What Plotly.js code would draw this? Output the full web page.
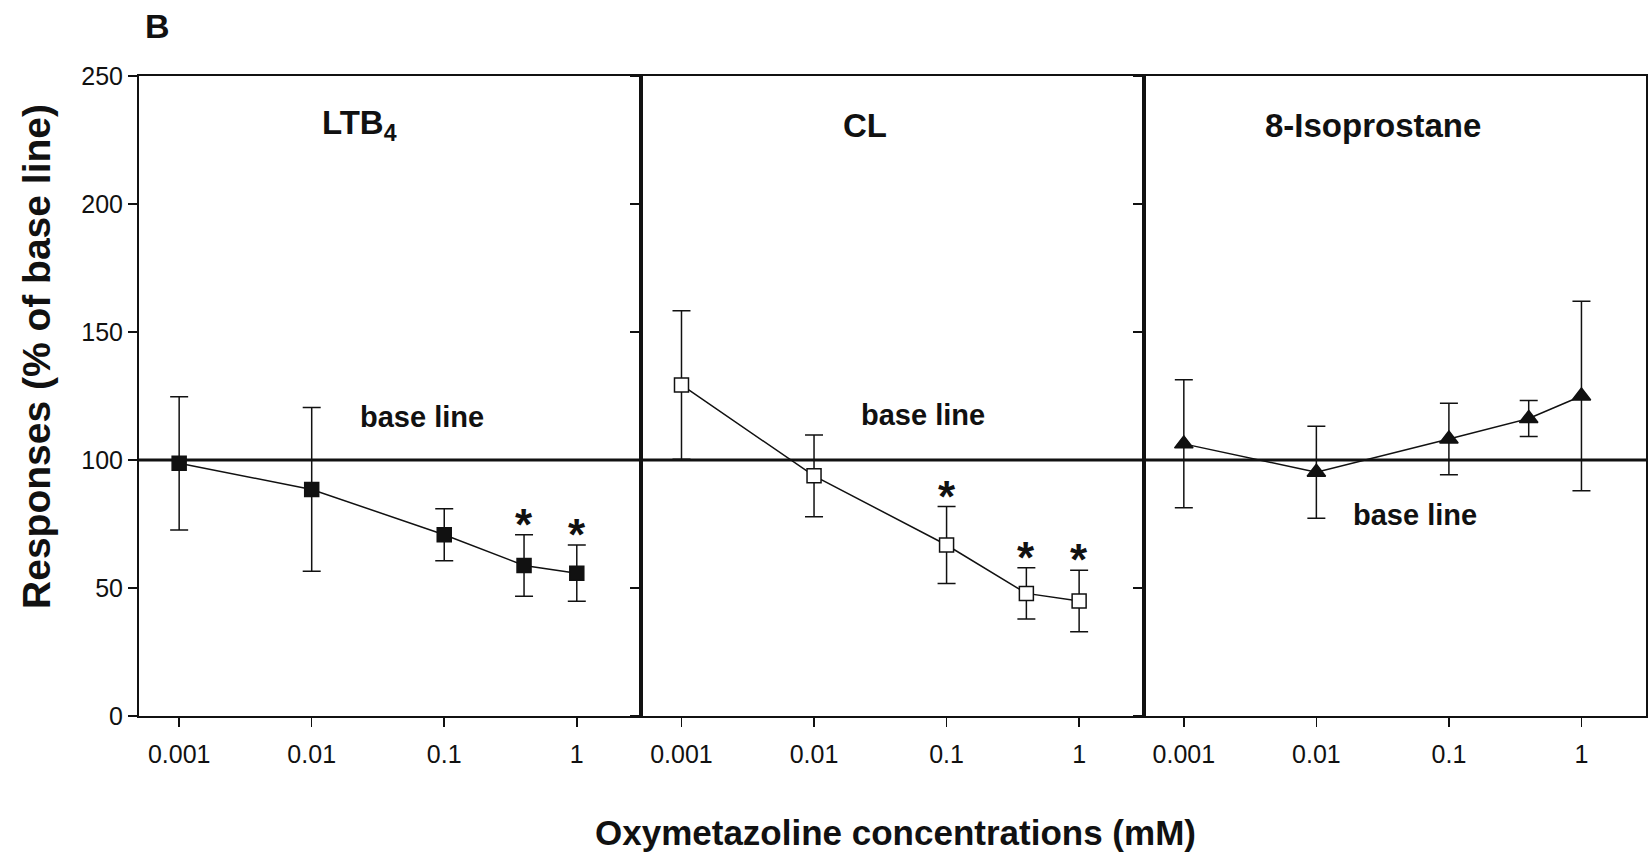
<!DOCTYPE html>
<html>
<head>
<meta charset="utf-8">
<script src="https://cdn.plot.ly/plotly-3.0.1.min.js"></script>
<style>html,body{margin:0;padding:0;background:#fff;}#chart{width:1648px;height:859px;}</style>
</head>
<body>
<div id="chart"></div>
<script>
// ---- data ----
const concentrations = [0.001, 0.01, 0.1, 0.4, 1];
const ltb4Mean = [98.7, 88.5, 70.8, 58.8, 55.8];
const ltb4Err = [26, 32, 10.2, 12, 11];
const ltb4Sig = [false, false, false, true, true];
const clMean = [129.3, 93.8, 66.8, 47.9, 44.9];
const clErr = [29, 16, 15, 10, 12];
const clSig = [false, false, true, true, true];
const isoMean = [106.3, 95.2, 108.2, 116.2, 125];
const isoErr = [25, 18, 14, 7, 37];
const isoSig = [false, false, false, false, false];
const panelNames = ['LTB<sub>4</sub>', 'CL', '8-Isoprostane'];
const xTickVals = [0.001, 0.01, 0.1, 1];
const xTickText = ['0.001', '0.01', '0.1', '1'];
const yTickVals = [0, 50, 100, 150, 200, 250];
const baselineValue = 100;
const baselineLabel = 'base line';
const xTitle = 'Oxymetazoline concentrations (mM)';
const yTitle = 'Responses (% of base line)';
const panelLetter = 'B';

// ---- styling ----
const FONT = 'Liberation Sans, Arial, sans-serif';
const INK = '#111';
const series = [
  {mean: ltb4Mean, err: ltb4Err, sig: ltb4Sig, symbol: 'square', size: 14, fill: INK},
  {mean: clMean, err: clErr, sig: clSig, symbol: 'square', size: 14, fill: '#fff'},
  {mean: isoMean, err: isoErr, sig: isoSig, symbol: 'triangle-up', size: 16, fill: INK}
];
const axSuffix = ['', '2', '3'];

const traces = series.map((s, i) => ({
  type: 'scatter', mode: 'lines+markers',
  x: concentrations, y: s.mean,
  xaxis: 'x' + axSuffix[i], yaxis: 'y' + axSuffix[i],
  line: {color: INK, width: 1.5},
  marker: {symbol: s.symbol, size: s.size, color: s.fill, line: {color: INK, width: 1.5}},
  error_y: {type: 'data', array: s.err, visible: true, color: INK, thickness: 1.5, width: 9},
  showlegend: false, hoverinfo: 'skip', cliponaxis: false
}));

const layout = {
  width: 1648, height: 859,
  margin: {l: 139, r: 2, t: 76, b: 143},
  paper_bgcolor: '#fff', plot_bgcolor: 'rgba(0,0,0,0)',
  font: {family: FONT, color: INK},
  showlegend: false,
  shapes: [{type: 'line', xref: 'paper', yref: 'y', x0: 0, x1: 1, y0: baselineValue, y1: baselineValue,
            line: {color: INK, width: 3}, layer: 'below'}],
  annotations: []
};

const domains = [[0, 1/3], [1/3, 2/3], [2/3, 1]];
for (let i = 0; i < 3; i++) {
  const sfx = axSuffix[i];
  layout['xaxis' + sfx] = {
    type: 'log', range: [-3.303, 0.487], domain: domains[i], anchor: 'y' + sfx,
    tickvals: xTickVals, ticktext: xTickText, ticks: 'outside', ticklen: 9, tickwidth: 1.5, tickcolor: INK,
    ticklabelstandoff: 6,
    showline: true, linewidth: 2, linecolor: INK, mirror: true, showgrid: false, zeroline: false,
    tickfont: {size: 25, family: FONT, color: INK}, fixedrange: true
  };
  layout['yaxis' + sfx] = {
    range: [0, 250], anchor: 'x' + sfx, tickvals: yTickVals,
    ticks: 'outside', ticklen: 9, tickwidth: 1.5, tickcolor: INK,
    showline: true, linewidth: 2, linecolor: INK, mirror: true, showgrid: false, zeroline: false,
    showticklabels: i === 0, tickfont: {size: 25, family: FONT, color: INK}, fixedrange: true
  };
}

// panel titles
const titlePos = [0.439, 0.445, 0.456];
panelNames.forEach((name, i) => {
  layout.annotations.push({
    xref: 'x' + axSuffix[i] + ' domain', yref: 'y' + axSuffix[i],
    x: titlePos[i], y: 230.7, xanchor: 'center', yanchor: 'middle', showarrow: false,
    text: name, font: {size: 33, family: FONT, color: INK, weight: 'bold'}
  });
});
// base line labels
const baseLabelPos = [[0.563, 116.8], [0.561, 117.6], [0.540, 78.5]];
baseLabelPos.forEach((p, i) => {
  layout.annotations.push({
    xref: 'x' + axSuffix[i] + ' domain', yref: 'y' + axSuffix[i],
    x: p[0], y: p[1], xanchor: 'center', yanchor: 'middle', showarrow: false,
    text: baselineLabel, font: {size: 29, family: FONT, color: INK, weight: 'bold'}
  });
});
// significance stars
series.forEach((s, i) => {
  s.sig.forEach((flag, k) => {
    if (!flag) return;
    layout.annotations.push({
      xref: 'x' + axSuffix[i], yref: 'y' + axSuffix[i],
      x: Math.log10(concentrations[k]), y: s.mean[k] + s.err[k],
      xanchor: 'center', yanchor: 'bottom', yshift: -16, showarrow: false,
      text: '*', font: {size: 44, family: FONT, color: INK, weight: 'bold'}
    });
  });
});
// axis titles and panel letter
layout.annotations.push({
  xref: 'paper', yref: 'paper', x: 0.5017, y: 0, yshift: -116, xanchor: 'center', yanchor: 'middle',
  showarrow: false, text: xTitle, font: {size: 35, family: FONT, color: INK, weight: 'bold'}
});
layout.annotations.push({
  xref: 'paper', yref: 'paper', x: 0, xshift: -102, y: 0.561, xanchor: 'center', yanchor: 'middle',
  textangle: -90, showarrow: false, text: yTitle, font: {size: 39, family: FONT, color: INK, weight: 'bold'}
});
layout.annotations.push({
  xref: 'paper', yref: 'paper', x: 0.0123, y: 1.078, xanchor: 'center', yanchor: 'middle',
  showarrow: false, text: panelLetter, font: {size: 34, family: FONT, color: INK, weight: 'bold'}
});

Plotly.newPlot('chart', traces, layout, {staticPlot: true, displayModeBar: false});
</script>
</body>
</html>
